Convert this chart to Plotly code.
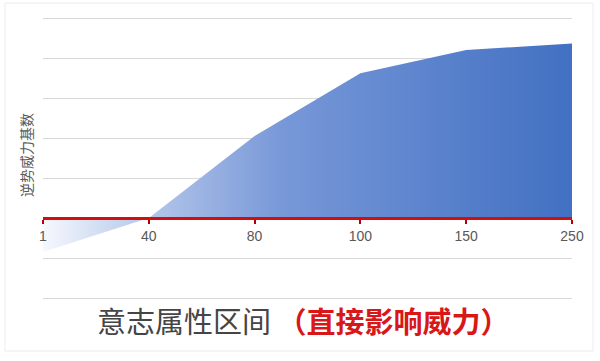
import plotly.graph_objects as go

# Attribute interval categories and the base counter-power values
categories = ["1", "40", "80", "100", "150", "250"]
power_base = [-0.85, 0.0, 2.05, 3.62, 4.2, 4.36]

y_min, y_max = -2.1, 5.1

fig = go.Figure()

fig.add_trace(go.Scatter(
    x=categories,
    y=power_base,
    mode="lines",
    fill="tozeroy",
    line=dict(width=0, color="#4472c4"),
    fillgradient=dict(
        type="horizontal",
        colorscale=[
            [0.0, "#f6f8fd"],
            [0.2, "#b4c6ea"],
            [0.45, "#7898d8"],
            [0.75, "#5a82cc"],
            [1.0, "#4270c2"],
        ],
    ),
    hoverinfo="x+y",
    showlegend=False,
))

plot_w, plot_h = 529, 288

fig.update_layout(
    width=600,
    height=361,
    margin=dict(l=43, r=28, t=14, b=59),
    paper_bgcolor="white",
    plot_bgcolor="white",
    font=dict(family="Noto Sans CJK SC, Noto Sans, sans-serif", color="#595959"),
    xaxis=dict(
        type="category",
        range=[0, 5],
        anchor="free",
        position=(0 - y_min) / (y_max - y_min),
        showgrid=False,
        showline=True,
        linecolor="#d01010",
        linewidth=3,
        ticks="outside",
        ticklen=4,
        tickwidth=2,
        tickcolor="#b00000",
        tickfont=dict(size=14, color="#595959", family="Liberation Sans, Arial, sans-serif"),
        zeroline=False,
    ),
    yaxis=dict(
        range=[y_min, y_max],
        tick0=0,
        dtick=1,
        showgrid=True,
        gridcolor="#d9d9d9",
        gridwidth=1,
        showticklabels=False,
        zeroline=False,
        showline=False,
        ticks="",
    ),
    shapes=[
        # light frame around the whole chart
        dict(type="rect", xref="paper", yref="paper",
             x0=-38 / plot_w, x1=1 + 21 / plot_w,
             y0=-49 / plot_h, y1=1 + 11 / plot_h,
             line=dict(color="#ececec", width=1), fillcolor="rgba(0,0,0,0)",
             layer="below"),
    ],
    annotations=[
        dict(
            text="逆势威力基数",
            textangle=-90,
            xref="paper", yref="paper",
            x=-17 / plot_w, y=(302 - 155) / plot_h,
            xanchor="center", yanchor="middle",
            showarrow=False,
            font=dict(size=14, color="#595959"),
        ),
        dict(
            text="意志属性区间 <span style='color:#d81818'><b>（直接影响威力）</b></span>",
            xref="paper", yref="paper",
            x=(95 - 43) / plot_w, y=-(320 - 302) / plot_h,
            xanchor="left", yanchor="middle",
            showarrow=False,
            font=dict(size=29, color="#454545"),
        ),
    ],
)

fig.write_html("out.html")
